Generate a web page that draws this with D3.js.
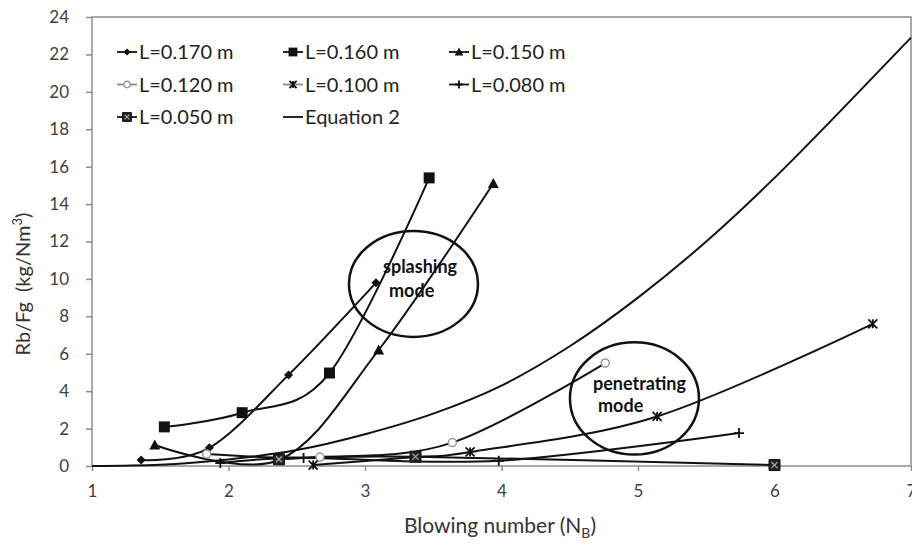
<!DOCTYPE html>
<meta charset="utf-8">
<style>
body { margin: 0; background: #fff; }
text { font-family: Lato, "Open Sans", sans-serif; }
.axis path { display: none; }
.axis line { stroke: #8c8c8c; stroke-width: 1.5px; }
.axis text { fill: #404040; font-size: 17px; font-family: Lato, sans-serif; }
.line { fill: none; stroke: #111; stroke-width: 2px; }
.mode { fill: none; stroke: #111; stroke-width: 2.5px; }
</style>
<svg width="912" height="545"></svg>
<script src="https://d3js.org/d3.v7.min.js"></script>
<script>

// tick labels
var xTicks = [1, 2, 3, 4, 5, 6, 7];
var yTicks = [0, 2, 4, 6, 8, 10, 12, 14, 16, 18, 20, 22, 24];

// measured series [N_B, Rb/Fg]
var names = ["L=0.170 m", "L=0.160 m", "L=0.150 m", "L=0.120 m", "L=0.100 m", "L=0.080 m", "L=0.050 m", "Equation 2"];
var l170 = [[1.36, 0.32], [1.86, 0.97], [2.44, 4.87], [3.08, 9.79]];
var l160 = [[1.53, 2.09], [2.10, 2.85], [2.74, 4.97], [3.47, 15.4]];
var l150 = [[1.46, 1.12], [2.37, 0.32], [3.10, 6.2], [3.94, 15.1]];
var l120 = [[1.84, 0.64], [2.67, 0.48], [3.64, 1.25], [4.76, 5.5]];
var l100 = [[2.62, 0.05], [3.37, 0.48], [3.77, 0.75], [5.14, 2.65], [6.72, 7.6]];
var l080 = [[1.94, 0.16], [2.55, 0.43], [3.98, 0.28], [5.74, 1.76]];
var l050 = [[2.37, 0.36], [3.37, 0.5], [6.0, 0.05]];

// equation 2 curve
var eq2X = [1, 1.5, 2, 2.5, 3, 3.5, 4, 4.5, 5, 5.5, 6, 6.5, 7];
var eq2Y = [0, 0.07, 0.35, 0.85, 1.7, 2.8, 4.3, 6.4, 9.0, 12.0, 15.4, 19.1, 22.9];

// the two circled regions (data units)
var modes = [
  {cx: 3.355, cy: 9.73, rx: 0.4725, ry: 2.83, lines: ["splashing", "mode"], tx: [3.132, 3.176], ty: [10.32, 9.04]},
  {cx: 4.974, cy: 3.61, rx: 0.4725, ry: 3.0, lines: ["penetrating", "mode"], tx: [4.670, 4.707], ty: [4.06, 2.89]}
];

var series = [l170, l160, l150, l120, l100, l080, l050];
var markerTypes = ["diamond", "square", "triangle", "circle", "star", "plus", "boxx"];

var svg = d3.select("svg"),
    margin = {top: 17, right: 1, bottom: 79, left: 92},
    width = +svg.attr("width") - margin.left - margin.right,
    height = +svg.attr("height") - margin.top - margin.bottom,
    g = svg.append("g").attr("transform", "translate(" + margin.left + "," + margin.top + ")");

var x = d3.scaleLinear().domain([1, 7]).range([0, width]);
var y = d3.scaleLinear().domain([0, 24]).range([height, 0]);

function markerPath(type, r) {
  switch (type) {
    case "diamond":
      return "M0," + (-r) + "L" + r + ",0L0," + r + "L" + (-r) + ",0Z";
    case "square":
    case "boxx":
      return "M" + (-r) + "," + (-r) + "h" + (2 * r) + "v" + (2 * r) + "h" + (-2 * r) + "Z";
    case "triangle":
      return "M0," + (-r) + "L" + r + "," + (r * 0.8) + "L" + (-r) + "," + (r * 0.8) + "Z";
    case "circle":
      return "M" + r + ",0A" + r + "," + r + " 0 1,1 " + (-r) + ",0A" + r + "," + r + " 0 1,1 " + r + ",0Z";
    case "star":
      return "M" + (-r) + "," + (-r) + "L" + r + "," + r + "M" + r + "," + (-r) + "L" + (-r) + "," + r + "M0," + (-r) + "L0," + r;
    case "cross":
      return "M" + (-r) + "," + (-r) + "L" + r + "," + r + "M" + r + "," + (-r) + "L" + (-r) + "," + r;
    case "plus":
      return "M" + (-r) + ",0L" + r + ",0M0," + (-r) + "L0," + r;
  }
}

var markerSize = {diamond: 4.5, square: 5.5, triangle: 5.5, circle: 4, star: 4.5, plus: 5, boxx: 5.5};

function drawMarker(sel, type, scale) {
  var r = markerSize[type] * (scale || 1);
  var p = sel.append("path").attr("d", markerPath(type, r));
  if (type == "circle") {
    p.attr("fill", "#fff").attr("stroke", "#999").attr("stroke-width", 1.5);
  } else if (type == "star" || type == "plus") {
    p.attr("fill", "none").attr("stroke", "#111").attr("stroke-width", 1.8);
  } else if (type == "boxx") {
    p.attr("fill", "#222").attr("stroke", "#111").attr("stroke-width", 1);
    sel.append("path").attr("d", markerPath("cross", r * 0.55))
      .attr("stroke", "#aaa").attr("stroke-width", 1.2);
  } else {
    p.attr("fill", "#111");
  }
}

// plot frame
g.append("rect")
    .attr("width", width)
    .attr("height", height)
    .attr("fill", "none")
    .attr("stroke", "#8c8c8c")
    .attr("stroke-width", 1.5);

g.append("g")
    .attr("class", "axis axis--x")
    .attr("transform", "translate(0," + height + ")")
    .call(d3.axisBottom(x).tickValues(xTicks).tickFormat(d3.format("d")).tickSize(5).tickPadding(14));

g.append("g")
    .attr("class", "axis axis--y")
    .call(d3.axisLeft(y).tickValues(yTicks).tickFormat(d3.format("d")).tickSize(6).tickPadding(17));

var line = d3.line()
    .x(function(d) { return x(d[0]); })
    .y(function(d) { return y(d[1]); })
    .curve(d3.curveMonotoneX);

var eq2 = eq2X.map(function(v, i) { return [v, eq2Y[i]]; });

g.append("path")
    .datum(eq2)
    .attr("class", "line")
    .attr("d", line);

// excel-style smoothed lines
line.curve(d3.curveCardinal.tension(0));

series.forEach(function(s) {
  g.append("path")
      .datum(s)
      .attr("class", "line")
      .attr("d", line);
});

series.forEach(function(s, i) {
  s.forEach(function(d) {
    var m = g.append("g").attr("transform", "translate(" + x(d[0]) + "," + y(d[1]) + ")");
    drawMarker(m, markerTypes[i]);
  });
});

// circled regions
modes.forEach(function(m) {
  g.append("ellipse")
      .attr("class", "mode")
      .attr("cx", x(m.cx))
      .attr("cy", y(m.cy))
      .attr("rx", x(m.cx + m.rx) - x(m.cx))
      .attr("ry", y(0) - y(m.ry));
  m.lines.forEach(function(t, j) {
    g.append("text")
        .attr("x", x(m.tx[j]))
        .attr("y", y(m.ty[j]))
        .attr("font-size", "18px")
        .attr("font-weight", "bold")
        .attr("fill", "#111")
        .text(t);
  });
});

// legend, three columns
var legend = svg.append("g");
names.forEach(function(n, i) {
  var lx = 117 + (i % 3) * 166,
      ly = 52 + Math.floor(i / 3) * 32.5;
  var item = legend.append("g").attr("transform", "translate(" + lx + "," + ly + ")");
  item.append("line")
      .attr("x1", 0).attr("x2", 20)
      .attr("stroke", (i == 3 || i == 4) ? "#888" : "#111")
      .attr("stroke-width", 1.8);
  if (i < 7) {
    drawMarker(item.append("g").attr("transform", "translate(10,0)"), markerTypes[i], 0.8);
  }
  item.append("text")
      .attr("x", 22)
      .attr("dy", "0.36em")
      .attr("font-size", "20px")
      .attr("fill", "#222")
      .text(n);
});

// axis titles
var yt = svg.append("text")
    .attr("transform", "translate(30,284) rotate(-90)")
    .attr("text-anchor", "middle")
    .attr("font-size", "20px")
    .attr("fill", "#333");
yt.append("tspan").text("Rb/Fg\u00a0\u00a0(kg/Nm");
yt.append("tspan").attr("font-size", "13px").attr("dy", "-8").text("3");
yt.append("tspan").attr("dy", "8").text(")");

var xt = svg.append("text")
    .attr("x", 500)
    .attr("y", 533)
    .attr("text-anchor", "middle")
    .attr("font-size", "21px")
    .attr("fill", "#333");
xt.append("tspan").text("Blowing number (N");
xt.append("tspan").attr("font-size", "14px").attr("dy", "5").text("B");
xt.append("tspan").attr("dy", "-5").text(")");

</script>
